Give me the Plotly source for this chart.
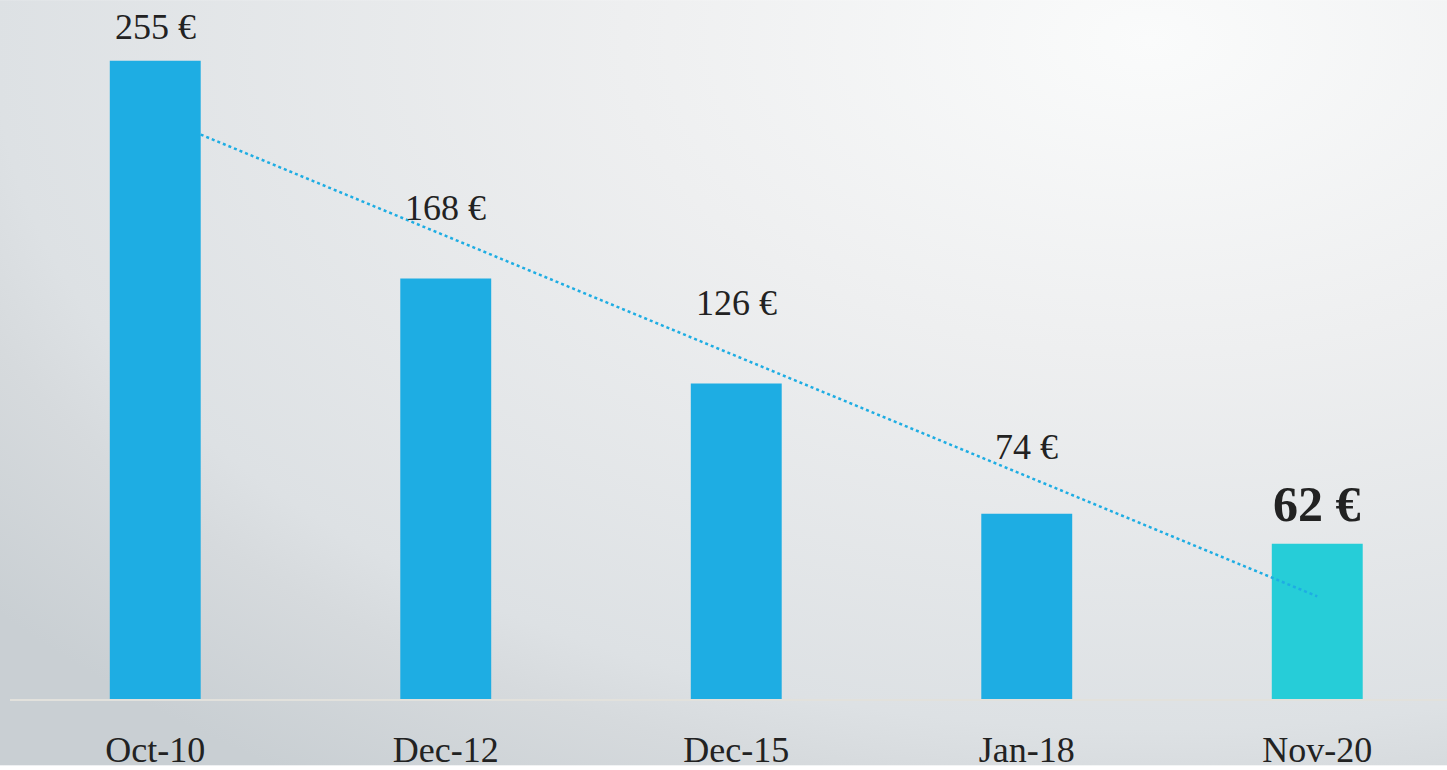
import base64
import numpy as np
import plotly.graph_objects as go

categories = ["Oct-10", "Dec-12", "Dec-15", "Jan-18", "Nov-20"]
values = [255, 168, 126, 74, 62]
labels = ["255 €", "168 €", "126 €", "74 €", "62 €"]
bar_colors = ["#1EADE3", "#1EADE3", "#1EADE3", "#1EADE3", "#26CDD8"]
label_shift = [34, 70, 81, 67, 40]

FONT = "Liberation Serif"
W, H = 1447, 770
ML, MR, MT, MB = 10, 0, 20, 67
plot_w = W - ML - MR
plot_h = H - MT - MB
cat_px = 290.5
x_range = [-0.5, -0.5 + plot_w / cat_px]
px_per_unit = 2.518
y_range = [0, plot_h / px_per_unit]

# linear trendline fitted to the data
idx = np.arange(len(values))
slope, intercept = np.polyfit(idx, values, 1)
bar_w = 0.313
tx = np.array([bar_w / 2, len(values) - 1])
ty = slope * tx + intercept

svg = f'''<svg xmlns="http://www.w3.org/2000/svg" width="{W}" height="{H}" viewBox="0 0 {W} {H}" preserveAspectRatio="none">
<defs><radialGradient id="g" gradientUnits="userSpaceOnUse" cx="0" cy="0" r="1"
 gradientTransform="translate(1150,40) scale(1500,900)">
<stop offset="0" stop-color="#fafbfb"/>
<stop offset="0.35" stop-color="#eeeff0"/>
<stop offset="0.77" stop-color="#dde1e4"/>
<stop offset="0.84" stop-color="#d6dadd"/>
<stop offset="1" stop-color="#c9cfd3"/></radialGradient></defs>
<rect width="{W}" height="{H}" fill="url(#g)"/></svg>'''
bg_uri = "data:image/svg+xml;base64," + base64.b64encode(svg.encode()).decode()

fig = go.Figure()
fig.add_trace(go.Bar(
    x=idx, y=values, width=bar_w, marker=dict(color=bar_colors, line=dict(width=0)),
    hoverinfo="skip", showlegend=False,
))
fig.add_trace(go.Scatter(
    x=tx, y=ty, mode="lines",
    line=dict(color="#1EADE3", width=2.5, dash="dot"),
    hoverinfo="skip", showlegend=False,
))

for i, (v, lab, s) in enumerate(zip(values, labels, label_shift)):
    last = i == len(values) - 1
    fig.add_annotation(
        x=i, y=v, text=f"<b>{lab}</b>" if last else lab,
        showarrow=False, yanchor="middle", yshift=s,
        font=dict(family=FONT, size=50 if last else 36, color="#222222"),
    )

fig.add_layout_image(dict(
    source=bg_uri, xref="paper", yref="paper",
    x=-ML / plot_w, y=1 + MT / plot_h, sizex=W / plot_w, sizey=H / plot_h,
    xanchor="left", yanchor="top", sizing="stretch", layer="below",
))

fig.update_layout(
    width=W, height=H,
    margin=dict(l=ML, r=MR, t=MT, b=MB),
    paper_bgcolor="rgba(0,0,0,0)", plot_bgcolor="rgba(0,0,0,0)",
    xaxis=dict(
        range=x_range, tickmode="array", tickvals=list(idx), ticktext=categories,
        showgrid=False, zeroline=False, showline=True, linecolor="#e2e1dc", linewidth=2,
        ticks="", ticklabelstandoff=18,
        tickfont=dict(family=FONT, size=36, color="#222222"),
    ),
    yaxis=dict(range=y_range, visible=False, showgrid=False, zeroline=False),
)

fig.write_html(
    "out.html",
    config={"displayModeBar": False},
    post_script="document.body.style.margin='0';document.body.style.overflow='hidden';",
)
